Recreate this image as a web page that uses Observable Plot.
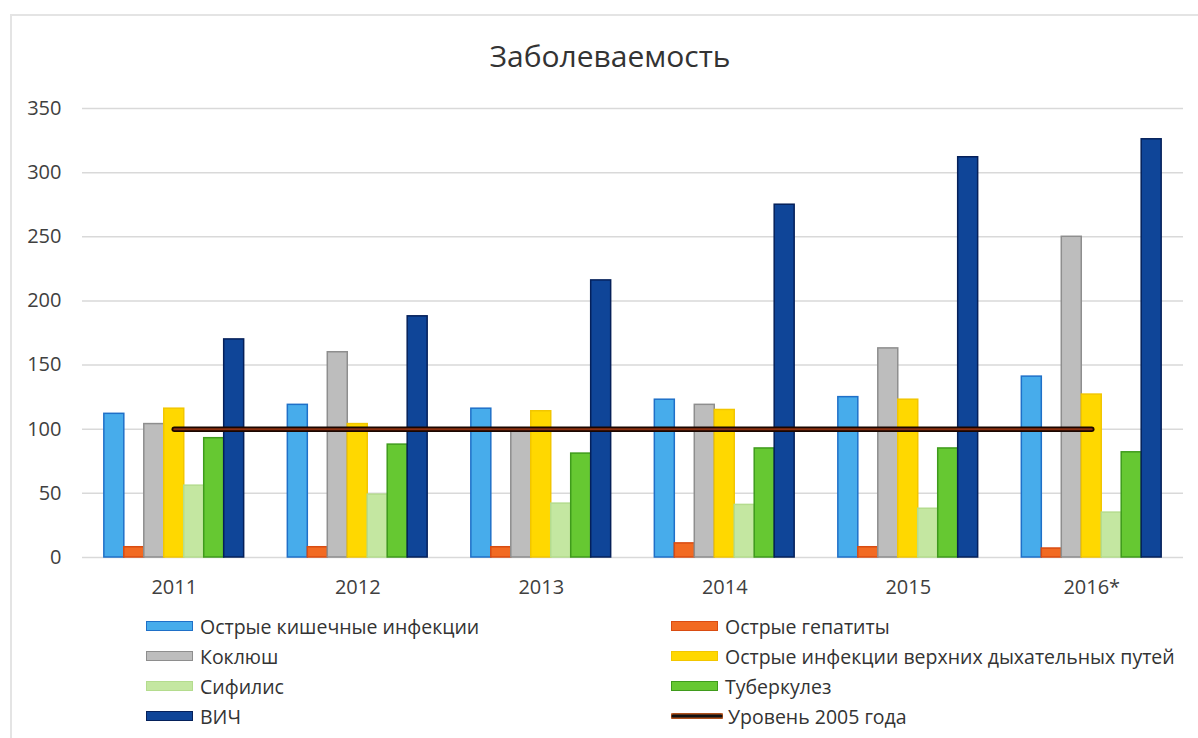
<!DOCTYPE html>
<html><head><meta charset="utf-8">
<script src="https://cdn.jsdelivr.net/npm/d3@7"></script>
<script src="https://cdn.jsdelivr.net/npm/@observablehq/plot@0.6"></script>
<style>
body{margin:0;background:#fff;font-family:"Open Sans",sans-serif;}
#wrap{position:relative;width:1198px;height:738px;overflow:hidden;background:#fff;}
#frame{position:absolute;left:10px;top:14px;width:1200px;height:740px;border-left:2px solid #e4e4e4;border-top:2px solid #e4e4e4;}
#title{position:absolute;left:0;width:1220px;top:36px;text-align:center;font-size:30px;color:#333;line-height:40px;}
.layer{position:absolute;left:0;top:0;}
.leg{position:absolute;display:flex;align-items:center;font-size:19.5px;color:#333;white-space:nowrap;height:30px;}
.sw{width:45px;height:8px;margin-right:7px;border:1.5px solid;}
</style></head><body>
<div id="wrap">
  <div id="frame"></div>
  <div id="title">Заболеваемость</div>
  <div id="l1" class="layer"></div>
  <div id="l2" class="layer"></div>
  <div id="l3" class="layer"></div>
  <div id="legend"></div>
</div>
<script>
const years = ["2011","2012","2013","2014","2015","2016*"];
const diseases = ["Острые кишечные инфекции","Острые гепатиты","Коклюш","Острые инфекции верхних дыхательных путей","Сифилис","Туберкулез","ВИЧ"];
const fills   = ["#47aceb","#f26a22","#bdbdbd","#ffd800","#c4e7a1","#66c832","#0f4598"];
const strokes = ["#1f70c8","#d94c12","#8e8e8e","#f2c600","#b4dc8e","#3f9b1c","#05205a"];
const intestinal   = [112,119,116,123,125,141];
const hepatitis    = [8,8,8,11,8,7];
const pertussis    = [104,160,98,119,163,250];
const uri          = [116,104,114,115,123,127];
const syphilis     = [56,49,42,41,38,35];
const tuberculosis = [93,88,81,85,85,82];
const hiv          = [170,188,216,275,312,326];
const level2005 = 100;
const lineLabel = "Уровень 2005 года";
const yTicks = [0,50,100,150,200,250,300,350];

const series = [intestinal,hepatitis,pertussis,uri,syphilis,tuberculosis,hiv];
const rows = [];
years.forEach((y,i)=>series.forEach((s,k)=>rows.push({year:y, disease:diseases[k], value:s[i], fill:fills[k], stroke:strokes[k]})));

const PI = 0.238, PO = 0.119;
const common = {width:1198, height:610, marginLeft:82, marginRight:15, marginTop:108, marginBottom:53,
  style:{background:"transparent", fontFamily:"Open Sans", fontSize:"20px", color:"#404040"}};

const bg = Plot.plot({...common,
  x:{type:"band", domain:years, paddingInner:PI, paddingOuter:PO, round:false, axis:"bottom", tickSize:0, tickPadding:22, label:null},
  y:{domain:[0,350], ticks:yTicks, tickSize:0, tickPadding:21, label:null},
  marks:[Plot.ruleY(yTicks, {stroke:"#d9d9d9", strokeWidth:1.5})]
});
document.getElementById("l1").appendChild(bg);

const bars = Plot.plot({...common,
  fx:{domain:years, paddingInner:PI, paddingOuter:PO, round:false, axis:null, label:null},
  x:{domain:diseases, padding:0, round:false, axis:null},
  y:{domain:[0,350], axis:null},
  color:{type:"identity"},
  marks:[Plot.barY(rows, {fx:"year", x:"disease", y:"value", fill:"fill", stroke:"stroke", strokeWidth:1.5, inset:0})]
});
document.getElementById("l2").appendChild(bars);

const ln = Plot.plot({...common,
  x:{type:"band", domain:years, paddingInner:PI, paddingOuter:PO, round:false, axis:null},
  y:{domain:[0,350], axis:null},
  marks:[
    Plot.lineY(years, {x:d=>d, y:()=>level2005, stroke:"#1a0600", strokeWidth:5.5}),
    Plot.lineY(years, {x:d=>d, y:()=>level2005, stroke:"#8c3010", strokeWidth:2})
  ]
});
document.getElementById("l3").appendChild(ln);

// legend
const leg = document.getElementById("legend");
const rowY = [611, 641, 671, 701];
const colX = [146, 671];
const items = diseases.map((d,k)=>({label:d, k}));
items.push({label:lineLabel, k:-1});
items.forEach((it,i)=>{
  const div = document.createElement("div");
  div.className = "leg";
  div.style.left = colX[i%2]+"px";
  div.style.top = rowY[Math.floor(i/2)]+"px";
  if (it.k >= 0) {
    const sw = document.createElement("div");
    sw.className = "sw";
    sw.style.background = fills[it.k];
    sw.style.borderColor = strokes[it.k];
    div.appendChild(sw);
  } else {
    const sw = document.createElementNS("http://www.w3.org/2000/svg","svg");
    sw.setAttribute("width","52"); sw.setAttribute("height","10");
    sw.style.marginRight = "5px";
    sw.innerHTML = '<line x1="2" y1="5" x2="50" y2="5" stroke="#b0521e" stroke-width="6" stroke-linecap="round"/><line x1="2" y1="5" x2="50" y2="5" stroke="#111" stroke-width="3" stroke-linecap="round"/>';
    div.appendChild(sw);
  }
  const t = document.createElement("span");
  t.textContent = it.label;
  div.appendChild(t);
  leg.appendChild(div);
});
</script>
</body></html>
